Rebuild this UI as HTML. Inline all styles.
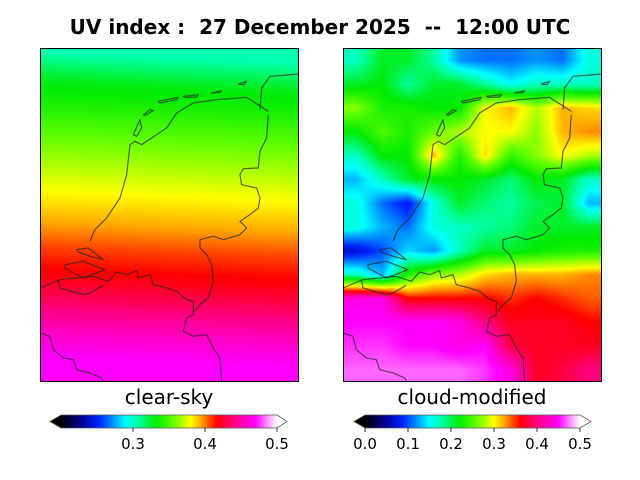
<!DOCTYPE html>
<html><head><meta charset="utf-8"><style>
body{margin:0;background:#fff;width:640px;height:480px;position:relative;overflow:hidden;font-family:"Liberation Sans","DejaVu Sans",sans-serif}
.t{position:absolute;white-space:pre}
canvas{position:absolute}
svg{position:absolute;left:0;top:0}
</style></head><body>
<div class="t" style="left:0;width:640px;text-align:center;top:15px;font-weight:bold;font-size:20px;font-family:'DejaVu Sans','Liberation Sans',sans-serif">UV index :  27 December 2025  --  12:00 UTC</div>
<canvas id="c1" width="258" height="333" style="left:40px;top:48px"></canvas>
<canvas id="c2" width="258" height="333" style="left:343px;top:48px"></canvas>
<div class="t" style="left:40px;width:258px;text-align:center;top:385px;font-size:20px;font-family:'DejaVu Sans',sans-serif">clear-sky</div>
<div class="t" style="left:343px;width:258px;text-align:center;top:385px;font-size:20px;font-family:'DejaVu Sans',sans-serif">cloud-modified</div>
<svg id="s" width="640" height="480"></svg>
<script>
// ---- data ----
const clearRows=[0.305,0.328,0.34,0.355,0.367,0.38,0.392,0.407,0.418,0.435,0.455,0.47];
const cloudGrid=[
[.17,.21,.21,.18,.12,.11,.11,.12,.11,.16],
[.21,.22,.18,.21,.21,.18,.15,.17,.17,.17],
[.27,.23,.23,.22,.22,.3,.32,.28,.32,.31],
[.22,.25,.23,.26,.28,.3,.3,.27,.32,.33],
[.17,.22,.22,.32,.23,.31,.24,.27,.3,.28],
[.13,.17,.21,.22,.22,.21,.19,.22,.21,.17],
[.16,.11,.08,.16,.21,.19,.18,.2,.21,.13],
[.16,.13,.11,.16,.17,.18,.19,.21,.21,.21],
[.07,.1,.14,.12,.17,.21,.21,.22,.23,.23],
[.17,.13,.23,.27,.28,.31,.32,.32,.32,.33],
[.44,.44,.36,.36,.36,.36,.35,.36,.35,.34],
[.45,.45,.45,.45,.44,.4,.37,.37,.37,.36],
[.46,.46,.45,.45,.44,.45,.38,.37,.37,.37],
[.47,.47,.47,.47,.47,.46,.44,.37,.38,.4]];
const leftTicks=[0.3,0.4,0.5];
const rightTicks=[0.0,0.1,0.2,0.3,0.4,0.5];
const leftRange=[0.2,0.5], rightRange=[0.0,0.5];
// colormap
const stops=[[0,[0,0,0]],[0.1,[0,0,160]],[0.18,[0,40,255]],[0.3,[0,255,255]],[0.36,[0,255,160]],[0.44,[0,235,0]],[0.52,[100,255,0]],[0.6,[255,255,0]],[0.65,[255,160,0]],[0.72,[255,0,0]],[0.8,[255,0,128]],[0.9,[255,0,255]],[1,[255,255,255]]];
function cmap(f){f=Math.max(0,Math.min(1,f));for(let i=1;i<stops.length;i++){if(f<=stops[i][0]){const a=stops[i-1],b=stops[i],t=(f-a[0])/(b[0]-a[0]);return a[1].map((v,k)=>Math.round(v+(b[1][k]-v)*t));}}return stops[stops.length-1][1];}
function interp1(arr,p){p=Math.max(0,Math.min(arr.length-1,p));const i=Math.min(arr.length-2,Math.floor(p)),t=p-i;return arr[i]*(1-t)+arr[i+1]*t;}
function draw(id,fn,rng){const c=document.getElementById(id),ctx=c.getContext('2d'),W=c.width,H=c.height,im=ctx.createImageData(W,H);
for(let y=0;y<H;y++)for(let x=0;x<W;x++){const v=fn(x,y,W,H),col=cmap((v-rng[0])/(rng[1]-rng[0])),o=(y*W+x)*4;im.data[o]=col[0];im.data[o+1]=col[1];im.data[o+2]=col[2];im.data[o+3]=255;}
ctx.putImageData(im,0,0);}
draw('c1',(x,y,W,H)=>{const p=(y+(W-x)*0.04)/H*clearRows.length-0.5;return interp1(clearRows,p);},leftRange);
draw('c2',(x,y,W,H)=>{const R=cloudGrid.length,C=cloudGrid[0].length;const py=y/H*R-0.5,px=x/W*C-0.5;
 const yy=Math.max(0,Math.min(R-1,py)),i=Math.min(R-2,Math.floor(yy)),t=yy-i;
 const a=interp1(cloudGrid[i],px),b=interp1(cloudGrid[i+1],px);return a*(1-t)+b*t;},rightRange);
// ---- svg overlays ----
const S=document.getElementById('s'),NS='http://www.w3.org/2000/svg';
function mk(tag,at,parent){const e=document.createElementNS(NS,tag);for(const k in at)e.setAttribute(k,at[k]);(parent||S).appendChild(e);return e;}
const coast=["M0,720 L60,695 L110,690 L160,685 L205,700","M205,700 L230,672 L260,680 L290,668 L295,690 L330,680 L340,710 L380,720 L410,730 L440,755 L460,760 L460,800 L440,810 L430,850 L460,865 L500,860 L520,900 L540,930 L545,1000",
"M150,580 L165,545 L200,510 L240,450 L260,380 L270,290 L285,280 L305,290 L380,240 L410,195 L460,165 L530,155 L620,148 L685,190",
"M685,200 L680,270 L660,310 L655,360 L610,362 L600,380 L605,410 L650,420 L660,450 L655,480 L630,500 L600,520 L620,540 L600,560 L550,575 L520,565 L480,575 L480,600 L500,620 L515,650 L520,700 L505,750 L480,770 L465,790",
"M0,855 L30,865 L40,905 L70,930 L100,935 L110,965 L150,975 L185,990 L190,1000","M660,185 L665,120 L690,85 L777,78",
"M280,260 L300,215 L305,240 L290,265 Z","M310,200 L330,185 L340,188 L315,202 Z","M355,160 L415,148 L410,155 L360,165 Z","M430,145 L475,140 L470,147 L435,148 Z","M515,135 L545,128 L540,133 Z","M595,108 L620,100 L612,110 Z",
"M110,605 L145,600 L190,635 L150,625 L115,612 Z","M75,650 L130,640 L195,665 L130,690 L75,660 Z","M55,695 L60,720 L130,740 L150,735 L190,712"];
[40,343].forEach((ox,pi)=>{const g=mk('g',{transform:`translate(${ox},48) scale(0.3333)`});
 
 coast.forEach(d=>{const p=mk('path',{d:d,fill:'none',stroke:'#222','stroke-opacity':0.7,'stroke-width':3.5,'stroke-linejoin':'round'},g);});
 const fr=mk('rect',{x:ox+0.5,y:48.5,width:258,height:333,fill:'none',stroke:'#000','stroke-width':1});
 });
// colorbars
function colorbar(x0,x1,tip0,tip1,rng,ticks,name){const y0=415,y1=428,g=mk('g',{});
 
 const gid=name+'-grad',defs=mk('defs',{},g),lg=mk('linearGradient',{id:gid,x1:0,x2:1,y1:0,y2:0},defs);
 for(let i=0;i<=40;i++){const c=cmap(i/40);mk('stop',{offset:i/40,'stop-color':`rgb(${c})`},lg);}
 const r=mk('rect',{x:x0,y:y0,width:x1-x0,height:y1-y0,fill:`url(#${gid})`},g);
 const lt=mk('polygon',{points:`${x0},${y0} ${tip0},${(y0+y1)/2} ${x0},${y1}`,fill:'#000'},g);
 const rt=mk('polygon',{points:`${x1},${y0} ${tip1},${(y0+y1)/2} ${x1},${y1}`,fill:'#fff'},g);
 mk('polygon',{points:`${x0},${y0} ${x1},${y0} ${tip1},${(y0+y1)/2} ${x1},${y1} ${x0},${y1} ${tip0},${(y0+y1)/2}`,fill:'none',stroke:'#555','stroke-width':0.8},g);
 ticks.forEach(v=>{const x=x0+(v-rng[0])/(rng[1]-rng[0])*(x1-x0);
  mk('line',{x1:x,x2:x,y1:y1,y2:y1+4,stroke:'#000','stroke-width':0.8},g);
  const t=mk('text',{x:x,y:449,'text-anchor':'middle','font-size':15,'font-family':'DejaVu Sans, Liberation Sans, sans-serif'},g);t.textContent=v.toFixed(1);
  });}
colorbar(61,277,50,287,leftRange,leftTicks,'clear-sky-colorbar');
colorbar(365,580,354,591,rightRange,rightTicks,'cloud-modified-colorbar');
</script>
</body></html>
